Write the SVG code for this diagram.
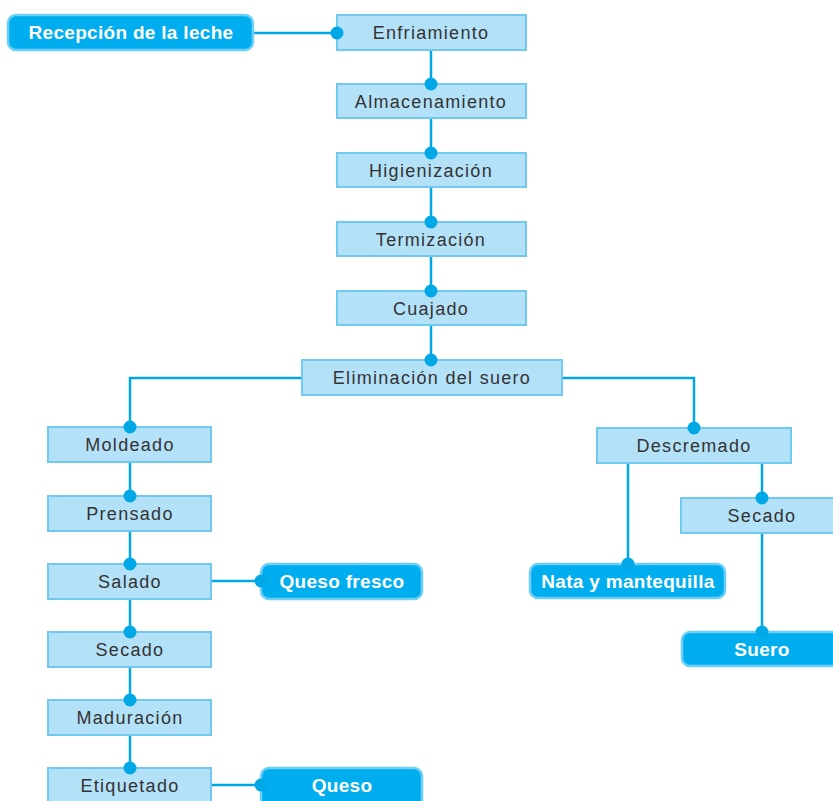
<svg xmlns="http://www.w3.org/2000/svg" width="833" height="801" viewBox="0 0 833 801">
  <style>
    .step rect { fill: #b3e1f8; stroke: #72c9ef; stroke-width: 2; }
    .step text { font-family: "Liberation Sans", Arial, sans-serif; font-size: 18px; fill: #333333; text-anchor: middle; letter-spacing: 1.3px; }
    .product rect { fill: #00aeef; stroke: #6ccff5; stroke-width: 2.5; }
    .product text { font-family: "Liberation Sans", Arial, sans-serif; font-size: 19px; font-weight: bold; fill: #ffffff; text-anchor: middle; letter-spacing: 0.3px; }
    .wire { fill: none; stroke: #00a8e6; stroke-width: 2.5; }
    .dot { fill: #00a8e6; }
  </style>
  <rect width="833" height="801" fill="#ffffff"/>

  <!-- connector lines -->
  <g id="connectors">
    <path class="wire" d="M253 33 H337"/>
    <path class="wire" d="M431 50 V84 M431 118 V153 M431 187 V222 M431 256 V291 M431 325 V360"/>
    <path class="wire" d="M302 378 H130 V427"/>
    <path class="wire" d="M562 378 H694 V428"/>
    <path class="wire" d="M130 462 V496 M130 531 V564 M130 599 V632 M130 667 V700 M130 735 V768"/>
    <path class="wire" d="M211 581 H261"/>
    <path class="wire" d="M211 785 H261"/>
    <path class="wire" d="M628 463 V564"/>
    <path class="wire" d="M762 463 V498"/>
    <path class="wire" d="M762 533 V632"/>
  </g>

  <!-- main line -->
  <g id="recepcion" class="product">
    <rect x="8" y="15" width="245" height="35" rx="8"/>
    <text x="131" y="39">Recepción de la leche</text>
  </g>
  <g id="enfriamiento" class="step">
    <rect x="337" y="15" width="189" height="35"/>
    <text x="431" y="39">Enfriamiento</text>
  </g>
  <g id="almacenamiento" class="step">
    <rect x="337" y="84" width="189" height="34"/>
    <text x="431" y="108">Almacenamiento</text>
  </g>
  <g id="higienizacion" class="step">
    <rect x="337" y="153" width="189" height="34"/>
    <text x="431" y="177">Higienización</text>
  </g>
  <g id="termizacion" class="step">
    <rect x="337" y="222" width="189" height="34"/>
    <text x="431" y="246">Termización</text>
  </g>
  <g id="cuajado" class="step">
    <rect x="337" y="291" width="189" height="34"/>
    <text x="431" y="315">Cuajado</text>
  </g>
  <g id="eliminacion" class="step">
    <rect x="302" y="360" width="260" height="35"/>
    <text x="432" y="384">Eliminación del suero</text>
  </g>

  <!-- cheese branch -->
  <g id="moldeado" class="step">
    <rect x="48" y="427" width="163" height="35"/>
    <text x="130" y="451">Moldeado</text>
  </g>
  <g id="prensado" class="step">
    <rect x="48" y="496" width="163" height="35"/>
    <text x="130" y="520">Prensado</text>
  </g>
  <g id="salado" class="step">
    <rect x="48" y="564" width="163" height="35"/>
    <text x="130" y="588">Salado</text>
  </g>
  <g id="secado-queso" class="step">
    <rect x="48" y="632" width="163" height="35"/>
    <text x="130" y="656">Secado</text>
  </g>
  <g id="maduracion" class="step">
    <rect x="48" y="700" width="163" height="35"/>
    <text x="130" y="724">Maduración</text>
  </g>
  <g id="etiquetado" class="step">
    <rect x="48" y="768" width="163" height="35"/>
    <text x="130" y="792">Etiquetado</text>
  </g>
  <g id="queso-fresco" class="product">
    <rect x="261" y="564" width="161" height="35" rx="8"/>
    <text x="342" y="588">Queso fresco</text>
  </g>
  <g id="queso" class="product">
    <rect x="261" y="768" width="161" height="40" rx="8"/>
    <text x="342" y="792">Queso</text>
  </g>

  <!-- whey branch -->
  <g id="descremado" class="step">
    <rect x="597" y="428" width="194" height="35"/>
    <text x="694" y="452">Descremado</text>
  </g>
  <g id="nata" class="product">
    <rect x="530" y="564" width="195" height="34" rx="8"/>
    <text x="628" y="588">Nata y mantequilla</text>
  </g>
  <g id="secado-suero" class="step">
    <rect x="681" y="498" width="160" height="35"/>
    <text x="762" y="522">Secado</text>
  </g>
  <g id="suero" class="product">
    <rect x="682" y="632" width="160" height="34" rx="8"/>
    <text x="762" y="656">Suero</text>
  </g>

  <!-- connector end dots, drawn over the box edges -->
  <g id="connector-dots">
    <circle class="dot" cx="337" cy="33" r="6.5"/>
    <circle class="dot" cx="431" cy="84" r="6.5"/>
    <circle class="dot" cx="431" cy="153" r="6.5"/>
    <circle class="dot" cx="431" cy="222" r="6.5"/>
    <circle class="dot" cx="431" cy="291" r="6.5"/>
    <circle class="dot" cx="431" cy="360" r="6.5"/>
    <circle class="dot" cx="130" cy="427" r="6.5"/>
    <circle class="dot" cx="694" cy="428" r="6.5"/>
    <circle class="dot" cx="130" cy="496" r="6.5"/>
    <circle class="dot" cx="130" cy="564" r="6.5"/>
    <circle class="dot" cx="130" cy="632" r="6.5"/>
    <circle class="dot" cx="130" cy="700" r="6.5"/>
    <circle class="dot" cx="130" cy="768" r="6.5"/>
    <circle class="dot" cx="261" cy="581" r="6.5"/>
    <circle class="dot" cx="261" cy="785" r="6.5"/>
    <circle class="dot" cx="628" cy="564" r="6.5"/>
    <circle class="dot" cx="762" cy="498" r="6.5"/>
    <circle class="dot" cx="762" cy="632" r="6.5"/>
  </g>
</svg>
